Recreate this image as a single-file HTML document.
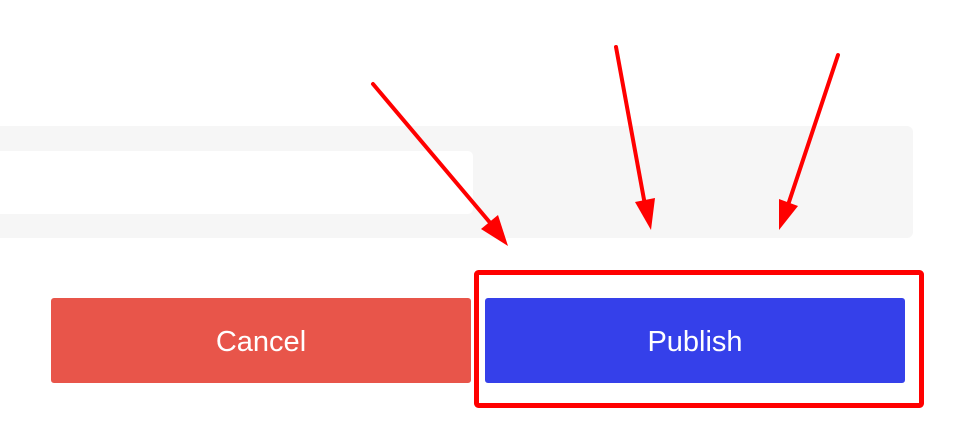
<!DOCTYPE html>
<html><head><meta charset="utf-8"><style>
html,body{margin:0;padding:0;background:#fff;}
body{width:959px;height:447px;position:relative;overflow:hidden;font-family:"Liberation Sans","DejaVu Sans",sans-serif;}
.panel{position:absolute;left:-6px;top:126px;width:919px;height:112px;background:#f6f6f6;border-radius:6px;}
.input{position:absolute;left:-6px;top:151px;width:479px;height:63px;background:#fff;border-radius:5px;}
.btn{position:absolute;top:298px;height:85px;width:420px;border-radius:3px;color:#fff;font-size:29px;display:flex;align-items:center;justify-content:center;box-sizing:border-box;padding-top:4px;}
.cancel{left:51px;background:#e8554a;}
.pub{left:485px;background:#3540ea;}
</style></head><body>
<div class="panel"></div>
<div class="input"></div>
<div class="btn cancel">Cancel</div>
<div class="btn pub">Publish</div>
<svg width="959" height="447" style="position:absolute;left:0;top:0">
<rect x="476.5" y="272.5" width="445" height="133" fill="none" stroke="#ff0000" stroke-width="5" rx="2"/>
<g stroke="#ff0000" stroke-width="4" stroke-linecap="round" fill="#ff0000">
<line x1="373" y1="84" x2="492" y2="225"/>
<polygon stroke="none" points="508,246 481,229 498,215"/>
<line x1="616" y1="47" x2="645" y2="205"/>
<polygon stroke="none" points="651,230 635,202 655,198"/>
<line x1="838" y1="55" x2="788" y2="205"/>
<polygon stroke="none" points="779,230 779,199 798,206"/>
</g>
</svg>
</body></html>
